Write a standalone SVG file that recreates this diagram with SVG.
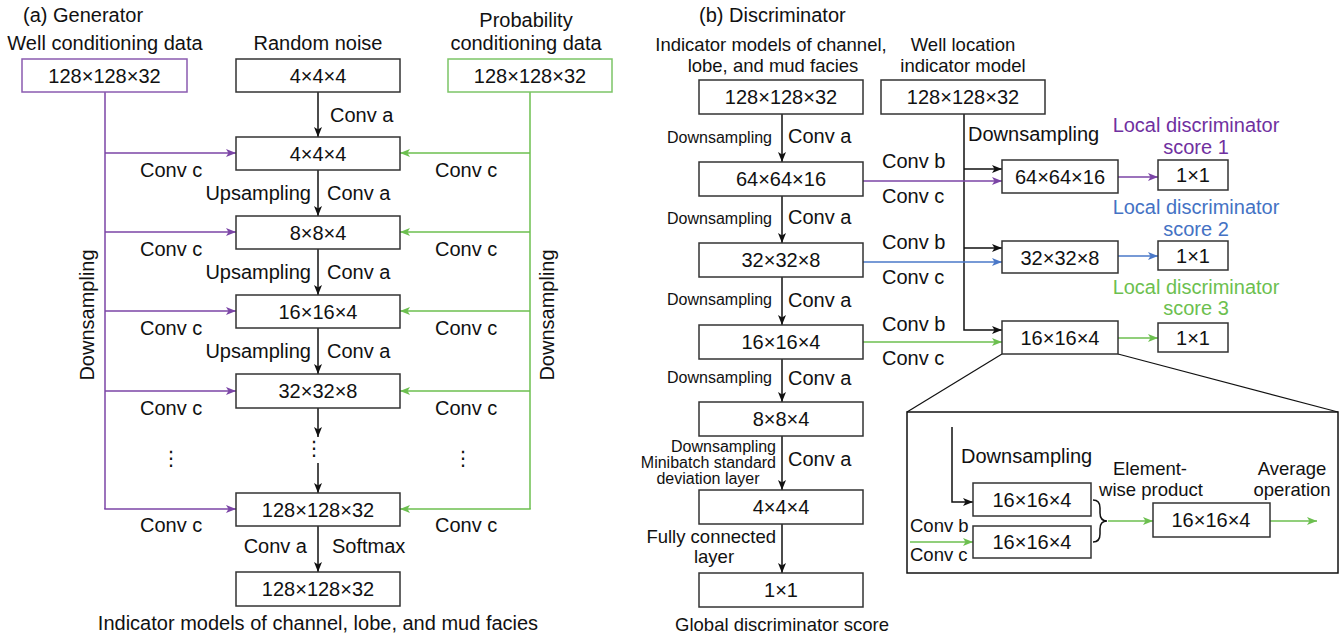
<svg xmlns="http://www.w3.org/2000/svg" width="1343" height="639" viewBox="0 0 1343 639">
  <style>
    .t20 { font-family: "Liberation Sans", Arial, sans-serif; font-size: 20px; fill: #111; }
    .t18 { font-family: "Liberation Sans", Arial, sans-serif; font-size: 18.5px; fill: #111; }
    .t16 { font-family: "Liberation Sans", Arial, sans-serif; font-size: 16px; fill: #111; }
    .mid { text-anchor: middle; }
    .end { text-anchor: end; }
    .box { fill: #fff; stroke: #333; stroke-width: 1.5; }
    .ln { fill: none; stroke: #111; stroke-width: 1.5; }
    .pur { fill: none; stroke: #7b45a6; stroke-width: 1.5; }
    .grn { fill: none; stroke: #6cbf4f; stroke-width: 1.5; }
    .blu { fill: none; stroke: #4a78c8; stroke-width: 1.5; }
    .dots { font-family: "DejaVu Sans", sans-serif; font-size: 20px; fill: #111; text-anchor: middle; }
    .c-pur { fill: #7030a0; }
    .c-blu { fill: #4472c4; }
    .c-grn { fill: #6cbf4f; }
  </style>
  <defs>
    <marker id="ah-k" markerUnits="userSpaceOnUse" markerWidth="11" markerHeight="9" refX="10" refY="4" orient="auto">
      <path d="M0,0 L10,4 L0,8 L2.5,4 z" fill="#111"/>
    </marker>
    <marker id="ah-p" markerUnits="userSpaceOnUse" markerWidth="11" markerHeight="9" refX="10" refY="4" orient="auto">
      <path d="M0,0 L10,4 L0,8 L2.5,4 z" fill="#7b45a6"/>
    </marker>
    <marker id="ah-g" markerUnits="userSpaceOnUse" markerWidth="11" markerHeight="9" refX="10" refY="4" orient="auto">
      <path d="M0,0 L10,4 L0,8 L2.5,4 z" fill="#6cbf4f"/>
    </marker>
    <marker id="ah-b" markerUnits="userSpaceOnUse" markerWidth="11" markerHeight="9" refX="10" refY="4" orient="auto">
      <path d="M0,0 L10,4 L0,8 L2.5,4 z" fill="#4a78c8"/>
    </marker>
  </defs>

  <!-- ===== (a) Generator ===== -->
  <text class="t20" x="23" y="22">(a) Generator</text>
  <text class="t20 mid" x="105" y="50">Well conditioning data</text>
  <text class="t20 mid" x="318" y="50">Random noise</text>
  <text class="t20 mid" x="526" y="27">Probability</text>
  <text class="t20 mid" x="526" y="50">conditioning data</text>

  <g id="gen-connectors">
    <!-- main upsampling path -->
    <line class="ln" x1="318" y1="92" x2="318" y2="137" marker-end="url(#ah-k)"/>
    <line class="ln" x1="318" y1="170" x2="318" y2="216" marker-end="url(#ah-k)"/>
    <line class="ln" x1="318" y1="249" x2="318" y2="295" marker-end="url(#ah-k)"/>
    <line class="ln" x1="318" y1="328" x2="318" y2="374" marker-end="url(#ah-k)"/>
    <line class="ln" x1="318" y1="408" x2="318" y2="437" marker-end="url(#ah-k)"/>
    <line class="ln" x1="318" y1="463" x2="318" y2="493" marker-end="url(#ah-k)"/>
    <line class="ln" x1="318" y1="526" x2="318" y2="572" marker-end="url(#ah-k)"/>
    <!-- well conditioning branch -->
    <path class="pur" d="M105,92 V509"/>
    <line class="pur" x1="105" y1="153" x2="236" y2="153" marker-end="url(#ah-p)"/>
    <line class="pur" x1="105" y1="232" x2="236" y2="232" marker-end="url(#ah-p)"/>
    <line class="pur" x1="105" y1="311" x2="236" y2="311" marker-end="url(#ah-p)"/>
    <line class="pur" x1="105" y1="391" x2="236" y2="391" marker-end="url(#ah-p)"/>
    <path class="pur" d="M104.25,509 H236" marker-end="url(#ah-p)"/>
    <!-- probability conditioning branch -->
    <path class="grn" d="M530,92 V509"/>
    <line class="grn" x1="530" y1="153" x2="400" y2="153" marker-end="url(#ah-g)"/>
    <line class="grn" x1="530" y1="232" x2="400" y2="232" marker-end="url(#ah-g)"/>
    <line class="grn" x1="530" y1="311" x2="400" y2="311" marker-end="url(#ah-g)"/>
    <line class="grn" x1="530" y1="391" x2="400" y2="391" marker-end="url(#ah-g)"/>
    <path class="grn" d="M530.75,509 H400" marker-end="url(#ah-g)"/>
  </g>

  <g id="gen-labels">
    <text class="t20" x="330" y="122">Conv a</text>
    <text class="t20 end" x="311" y="200">Upsampling</text>
    <text class="t20" x="327" y="200">Conv a</text>
    <text class="t20 end" x="311" y="279">Upsampling</text>
    <text class="t20" x="327" y="279">Conv a</text>
    <text class="t20 end" x="311" y="358">Upsampling</text>
    <text class="t20" x="327" y="358">Conv a</text>
    <text class="t20 end" x="307" y="553">Conv a</text>
    <text class="t20" x="332" y="553">Softmax</text>
    <text class="t20" x="140" y="177">Conv c</text>
    <text class="t20" x="140" y="256">Conv c</text>
    <text class="t20" x="140" y="335">Conv c</text>
    <text class="t20" x="140" y="415">Conv c</text>
    <text class="t20" x="140" y="532">Conv c</text>
    <text class="t20" x="435" y="177">Conv c</text>
    <text class="t20" x="435" y="256">Conv c</text>
    <text class="t20" x="435" y="335">Conv c</text>
    <text class="t20" x="435" y="415">Conv c</text>
    <text class="t20" x="435" y="532">Conv c</text>
    <text class="t20 mid" transform="translate(94,315) rotate(-90)">Downsampling</text>
    <text class="t20 mid" transform="translate(554,315) rotate(-90)">Downsampling</text>
    <text class="dots" x="171" y="465">⋮</text>
    <text class="dots" x="314" y="455">⋮</text>
    <text class="dots" x="463" y="465">⋮</text>
    <text class="t20 mid" x="318" y="630">Indicator models of channel, lobe, and mud facies</text>
  </g>

  <g id="gen-well-input">
    <rect x="22" y="59" width="165" height="33" fill="#fff" stroke="#8a5bb0" stroke-width="1.5"/>
    <text class="t20 mid" x="104.5" y="83">128×128×32</text>
  </g>
  <g id="gen-prob-input">
    <rect x="448" y="59" width="164" height="33" fill="#fff" stroke="#7cc567" stroke-width="1.5"/>
    <text class="t20 mid" x="530" y="83">128×128×32</text>
  </g>
  <g id="gen-noise">
    <rect class="box" x="236" y="59" width="164" height="33"/>
    <text class="t20 mid" x="318" y="83">4×4×4</text>
  </g>
  <g id="gen-l1">
    <rect class="box" x="236" y="137" width="164" height="33"/>
    <text class="t20 mid" x="318" y="161">4×4×4</text>
  </g>
  <g id="gen-l2">
    <rect class="box" x="236" y="216" width="164" height="33"/>
    <text class="t20 mid" x="318" y="240">8×8×4</text>
  </g>
  <g id="gen-l3">
    <rect class="box" x="236" y="295" width="164" height="33"/>
    <text class="t20 mid" x="318" y="319">16×16×4</text>
  </g>
  <g id="gen-l4">
    <rect class="box" x="236" y="374" width="164" height="34"/>
    <text class="t20 mid" x="318" y="398">32×32×8</text>
  </g>
  <g id="gen-l5">
    <rect class="box" x="236" y="493" width="164" height="33"/>
    <text class="t20 mid" x="318" y="517">128×128×32</text>
  </g>
  <g id="gen-out">
    <rect class="box" x="236" y="572" width="164" height="34"/>
    <text class="t20 mid" x="318" y="596">128×128×32</text>
  </g>

  <!-- ===== (b) Discriminator ===== -->
  <text class="t20" x="699" y="22">(b) Discriminator</text>
  <text class="t18 mid" x="771" y="51">Indicator models of channel,</text>
  <text class="t18 mid" x="773" y="72">lobe, and mud facies</text>
  <text class="t18 mid" x="963" y="51">Well location</text>
  <text class="t18 mid" x="963" y="72">indicator model</text>

  <g id="disc-connectors">
    <line class="ln" x1="782" y1="114" x2="782" y2="162" marker-end="url(#ah-k)"/>
    <line class="ln" x1="782" y1="196" x2="782" y2="243" marker-end="url(#ah-k)"/>
    <line class="ln" x1="782" y1="277" x2="782" y2="325" marker-end="url(#ah-k)"/>
    <line class="ln" x1="782" y1="359" x2="782" y2="402" marker-end="url(#ah-k)"/>
    <line class="ln" x1="782" y1="436" x2="782" y2="490" marker-end="url(#ah-k)"/>
    <line class="ln" x1="782" y1="524" x2="782" y2="573" marker-end="url(#ah-k)"/>
    <!-- well location branch -->
    <path class="ln" d="M964,114 V330 H1002" marker-end="url(#ah-k)"/>
    <line class="ln" x1="964" y1="169" x2="1002" y2="169" marker-end="url(#ah-k)"/>
    <line class="ln" x1="964" y1="248" x2="1002" y2="248" marker-end="url(#ah-k)"/>
    <!-- feature branches -->
    <line class="pur" x1="863" y1="181" x2="1002" y2="181" marker-end="url(#ah-p)"/>
    <line class="blu" x1="863" y1="262" x2="1002" y2="262" marker-end="url(#ah-b)"/>
    <line class="grn" x1="863" y1="342" x2="1002" y2="342" marker-end="url(#ah-g)"/>
    <line class="pur" x1="1118" y1="177" x2="1158" y2="177" marker-end="url(#ah-p)"/>
    <line class="blu" x1="1118" y1="256" x2="1158" y2="256" marker-end="url(#ah-b)"/>
    <line class="grn" x1="1118" y1="338" x2="1158" y2="338" marker-end="url(#ah-g)"/>
    <!-- zoom-out lines to detail panel -->
    <line x1="1002" y1="354" x2="907" y2="412" stroke="#111" stroke-width="1.2"/>
    <line x1="1118" y1="354" x2="1338" y2="412" stroke="#111" stroke-width="1.2"/>
  </g>

  <g id="disc-labels">
    <text class="t16 end" x="772" y="143">Downsampling</text>
    <text class="t20" x="788" y="143">Conv a</text>
    <text class="t16 end" x="772" y="224">Downsampling</text>
    <text class="t20" x="788" y="224">Conv a</text>
    <text class="t16 end" x="772" y="305">Downsampling</text>
    <text class="t20" x="788" y="307">Conv a</text>
    <text class="t16 end" x="772" y="383">Downsampling</text>
    <text class="t20" x="788" y="385">Conv a</text>
    <text class="t16 end" x="776" y="452">Downsampling</text>
    <text class="t16 end" x="776" y="468">Minibatch standard</text>
    <text class="t16 mid" x="708" y="484">deviation layer</text>
    <text class="t20" x="788" y="466">Conv a</text>
    <text class="t18 end" x="776" y="543">Fully connected</text>
    <text class="t18 mid" x="714" y="563">layer</text>
    <text class="t18 mid" x="782" y="631">Global discriminator score</text>
    <text class="t20" x="882" y="168">Conv b</text>
    <text class="t20" x="882" y="203">Conv c</text>
    <text class="t20" x="882" y="249">Conv b</text>
    <text class="t20" x="882" y="284">Conv c</text>
    <text class="t20" x="882" y="331">Conv b</text>
    <text class="t20" x="882" y="365">Conv c</text>
    <text class="t20" x="968" y="141">Downsampling</text>
    <text class="t20 mid c-pur" x="1196" y="132">Local discriminator</text>
    <text class="t20 mid c-pur" x="1196" y="154">score 1</text>
    <text class="t20 mid c-blu" x="1196" y="214">Local discriminator</text>
    <text class="t20 mid c-blu" x="1196" y="236">score 2</text>
    <text class="t20 mid c-grn" x="1196" y="294">Local discriminator</text>
    <text class="t20 mid c-grn" x="1196" y="315">score 3</text>
  </g>

  <g id="disc-input">
    <rect class="box" x="699" y="80" width="164" height="34"/>
    <text class="t20 mid" x="781" y="104">128×128×32</text>
  </g>
  <g id="disc-well-input">
    <rect class="box" x="881" y="80" width="164" height="34"/>
    <text class="t20 mid" x="963" y="104">128×128×32</text>
  </g>
  <g id="disc-l1">
    <rect class="box" x="699" y="162" width="164" height="34"/>
    <text class="t20 mid" x="781" y="186">64×64×16</text>
  </g>
  <g id="disc-l2">
    <rect class="box" x="699" y="243" width="164" height="34"/>
    <text class="t20 mid" x="781" y="267">32×32×8</text>
  </g>
  <g id="disc-l3">
    <rect class="box" x="699" y="325" width="164" height="34"/>
    <text class="t20 mid" x="781" y="349">16×16×4</text>
  </g>
  <g id="disc-l4">
    <rect class="box" x="699" y="402" width="164" height="34"/>
    <text class="t20 mid" x="781" y="426">8×8×4</text>
  </g>
  <g id="disc-l5">
    <rect class="box" x="699" y="490" width="164" height="34"/>
    <text class="t20 mid" x="781" y="514">4×4×4</text>
  </g>
  <g id="disc-global">
    <rect class="box" x="699" y="573" width="164" height="34"/>
    <text class="t20 mid" x="781" y="597">1×1</text>
  </g>
  <g id="local-1">
    <rect class="box" x="1002" y="160" width="116" height="33"/>
    <text class="t20 mid" x="1060" y="184">64×64×16</text>
  </g>
  <g id="local-2">
    <rect class="box" x="1002" y="241" width="116" height="32"/>
    <text class="t20 mid" x="1060" y="265">32×32×8</text>
  </g>
  <g id="local-3">
    <rect class="box" x="1002" y="321" width="116" height="33"/>
    <text class="t20 mid" x="1060" y="345">16×16×4</text>
  </g>
  <g id="score-1">
    <rect class="box" x="1158" y="160" width="70" height="30"/>
    <text class="t20 mid" x="1193" y="182">1×1</text>
  </g>
  <g id="score-2">
    <rect class="box" x="1158" y="241" width="70" height="29"/>
    <text class="t20 mid" x="1193" y="263">1×1</text>
  </g>
  <g id="score-3">
    <rect class="box" x="1158" y="323" width="70" height="29"/>
    <text class="t20 mid" x="1193" y="345">1×1</text>
  </g>

  <!-- detail panel: local discriminator internals -->
  <g id="detail">
    <rect x="907" y="412" width="431" height="161" fill="#fff" stroke="#111" stroke-width="1.5"/>
    <path class="ln" d="M952,427 V502 H973" marker-end="url(#ah-k)"/>
    <line class="grn" x1="910" y1="542" x2="973" y2="542" marker-end="url(#ah-g)"/>
    <path class="ln" d="M1093,500 q7,0 7,8 v5 q0,8 7,8 q-7,0 -7,8 v5 q0,8 -7,8" stroke-width="1.3"/>
    <line class="grn" x1="1108" y1="521" x2="1153" y2="521" marker-end="url(#ah-g)"/>
    <line class="grn" x1="1270" y1="521" x2="1317" y2="521" marker-end="url(#ah-g)"/>
    <text class="t20" x="961" y="463">Downsampling</text>
    <text class="t18 mid" x="1150" y="475">Element-</text>
    <text class="t18 mid" x="1151" y="496">wise product</text>
    <text class="t18 mid" x="1292" y="475">Average</text>
    <text class="t18 mid" x="1292" y="496">operation</text>
    <text class="t18" x="910" y="532">Conv b</text>
    <text class="t18" x="910" y="561">Conv c</text>
  </g>
  <g id="detail-a">
    <rect class="box" x="973" y="483" width="118" height="33"/>
    <text class="t20 mid" x="1032" y="507">16×16×4</text>
  </g>
  <g id="detail-b">
    <rect class="box" x="973" y="526" width="118" height="32"/>
    <text class="t20 mid" x="1032" y="549">16×16×4</text>
  </g>
  <g id="detail-product">
    <rect class="box" x="1153" y="503" width="117" height="34"/>
    <text class="t20 mid" x="1211" y="527">16×16×4</text>
  </g>
</svg>
